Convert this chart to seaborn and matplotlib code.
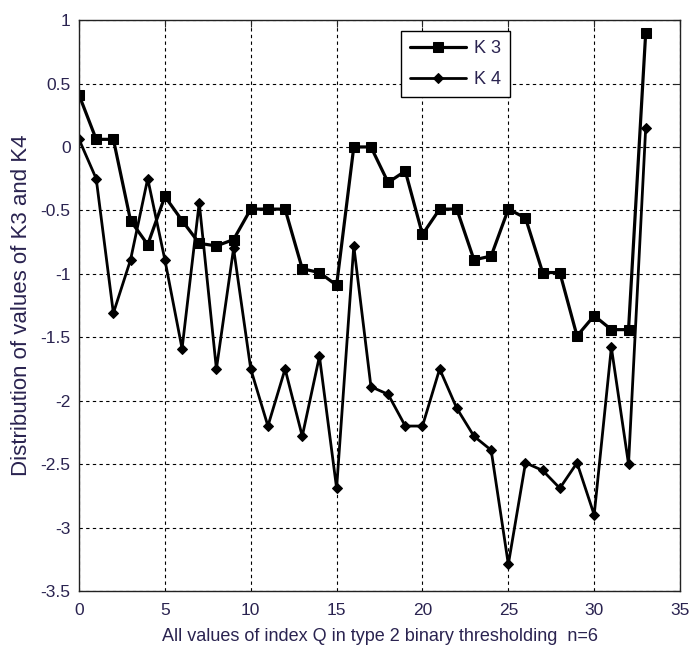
import pandas as pd
import matplotlib
matplotlib.use('Agg')
import matplotlib.pyplot as plt
import seaborn as sns

# Data
q = list(range(34))
k3 = [0.41, 0.06, 0.06, -0.58, -0.77, -0.39, -0.58, -0.76, -0.78, -0.73,
      -0.49, -0.49, -0.49, -0.96, -0.99, -1.09, 0.0, 0.0, -0.28, -0.19,
      -0.69, -0.49, -0.49, -0.89, -0.86, -0.49, -0.56, -0.99, -0.99, -1.49,
      -1.33, -1.44, -1.44, 0.90]
k4 = [0.06, -0.25, -1.31, -0.89, -0.25, -0.89, -1.59, -0.44, -1.75, -0.80,
      -1.75, -2.20, -1.75, -2.28, -1.65, -2.69, -0.78, -1.89, -1.95, -2.20,
      -2.20, -1.75, -2.06, -2.28, -2.39, -3.29, -2.49, -2.55, -2.69, -2.49,
      -2.90, -1.58, -2.50, 0.15]
x_ticks = [0, 5, 10, 15, 20, 25, 30, 35]
y_ticks = [1, 0.5, 0, -0.5, -1, -1.5, -2, -2.5, -3, -3.5]
y_tick_labels = ['1', '0.5', '0', '-0.5', '-1', '-1.5', '-2', '-2.5', '-3', '-3.5']

df = pd.DataFrame({'Q': q, 'K3': k3, 'K4': k4})

sns.set_style('white')
plt.rcParams['font.family'] = ['Liberation Sans', 'DejaVu Sans']
txt = '#2a2350'

fig = plt.figure(figsize=(6.89, 6.48), dpi=100)
ax = fig.add_axes([0.1147, 0.088, 0.8723, 0.881])

sns.lineplot(data=df, x='Q', y='K3', ax=ax, color='black', linewidth=2.3,
             marker='s', markersize=7, markeredgecolor='black',
             solid_joinstyle='miter', label='K 3')
sns.lineplot(data=df, x='Q', y='K4', ax=ax, color='black', linewidth=2.0,
             marker='D', markersize=5, markeredgecolor='black',
             solid_joinstyle='miter', label='K 4')

ax.set_xlim(0, 35)
ax.set_ylim(-3.5, 1)
ax.set_xticks(x_ticks)
ax.set_xticklabels([str(t) for t in x_ticks])
ax.set_yticks(y_ticks)
ax.set_yticklabels(y_tick_labels)

ax.grid(True, color='black', linestyle=(0, (3, 3)), linewidth=0.8)
ax.tick_params(direction='in', length=5, width=0.8, top=True, right=True,
               labelsize=12.5, labelcolor=txt, pad=6)
ax.tick_params(axis='x', pad=9)
for s in ax.spines.values():
    s.set_color('#222222')
    s.set_linewidth(1.0)

ax.set_xlabel('All values of index Q in type 2 binary thresholding  n=6',
              fontsize=13, color=txt, labelpad=7)
ax.set_ylabel('Distribution of values of K3 and K4', fontsize=16, color=txt,
              labelpad=6)

leg = ax.legend(loc='upper left', bbox_to_anchor=(0.535, 0.981), fontsize=13,
                frameon=True, fancybox=False, framealpha=1, edgecolor='black',
                handlelength=3.1, handletextpad=0.45, borderpad=0.5,
                labelspacing=0.78, borderaxespad=0)
leg.get_frame().set_linewidth(1.0)
for t in leg.get_texts():
    t.set_color(txt)

plt.savefig('out.png', dpi=100)
